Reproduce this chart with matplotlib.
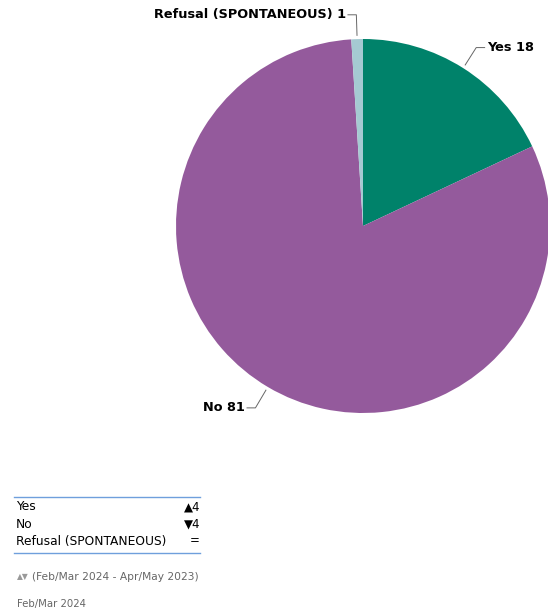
import numpy as np
import matplotlib.pyplot as plt

# answer shares (%) and change vs previous wave
labels = ['Yes', 'No', 'Refusal (SPONTANEOUS)']
values = [18, 81, 1]
colors = ['#00826a', '#945a9c', '#a5cad2']
changes = [4, -4, 0]
period_note = '(Feb/Mar 2024 - Apr/May 2023)'
wave = 'Feb/Mar 2024'

W, H = 548, 612
fig = plt.figure(figsize=(W / 100, H / 100), dpi=100)

def fx(px):
    return px / W

def fy(py):
    return 1 - py / H

# pie axes: centre (363, 226), radius 187 px
cx, cy, r = 363, 226, 187
ax = fig.add_axes([fx(cx - r), fy(cy + r), 2 * r / W, 2 * r / H])
wedges, _ = ax.pie(values, colors=colors, startangle=90, counterclock=False,
                   radius=1, wedgeprops=dict(linewidth=0))
ax.set_xlim(-1, 1)
ax.set_ylim(-1, 1)
ax.set_aspect('equal')
ax.axis('off')
for w in wedges:
    w.set_clip_on(False)

# leader lines and labels
for w, lab, v in zip(wedges, labels, values):
    mid = np.deg2rad((w.theta1 + w.theta2) / 2)
    x0, y0 = 1.02 * np.cos(mid), 1.02 * np.sin(mid)
    x1, y1 = 1.13 * np.cos(mid), 1.13 * np.sin(mid)
    side = 1 if x1 > 0.05 else -1
    x2 = x1 + side * 0.045
    ax.plot([x0, x1, x2], [y0, y1, y1], color='#666666', lw=0.7,
            clip_on=False)
    ax.text(x2 + side * 0.012, y1, f'{lab} {v}', ha='left' if side > 0 else 'right',
            va='center', fontsize=9.3, fontweight='heavy', color='black',
            family='DejaVu Sans')

# change table
line_color = '#6f9fdc'
for py in (497, 553):
    fig.add_artist(plt.Line2D([fx(14), fx(200)], [fy(py), fy(py)],
                              color=line_color, lw=1.0))
for i, (lab, ch) in enumerate(zip(labels, changes)):
    y = fy(507 + 17 * i)
    fig.text(fx(16), y, lab, ha='left', va='center', fontsize=8.8, color='black')
    if ch > 0:
        s = f'▲{ch}'
    elif ch < 0:
        s = f'▼{abs(ch)}'
    else:
        s = '='
    fig.text(fx(200), y, s, ha='right', va='center', fontsize=8.5, color='black')

fig.text(fx(17), fy(577), '▲▼', ha='left', va='center',
         fontsize=5.5, color='#999999')
fig.text(fx(32), fy(577), period_note, ha='left', va='center',
         fontsize=7.7, color='#666666')
fig.text(fx(17), fy(604), wave, ha='left', va='center', fontsize=7.3,
         color='#666666')

fig.savefig('out.png', dpi=100)
